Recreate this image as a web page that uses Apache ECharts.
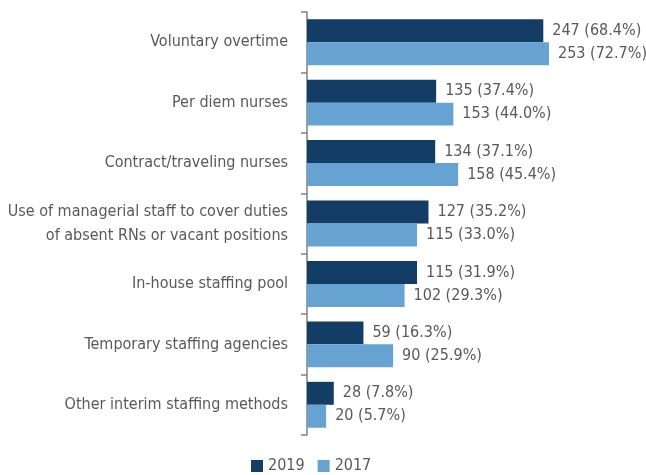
<!DOCTYPE html>
<html><head><meta charset="utf-8">
<script src="https://cdn.jsdelivr.net/npm/echarts@6/dist/echarts.min.js"></script>
<style>html,body{margin:0;padding:0;background:#fff}#c{width:646px;height:475px}</style>
</head><body><div id="c"></div>
<script>
const categories = ["Voluntary overtime","Per diem nurses","Contract/traveling nurses","Use of managerial staff to cover duties\nof absent RNs or vacant positions","In-house staffing pool","Temporary staffing agencies","Other interim staffing methods"];
const values2019 = [247,135,134,127,115,59,28];
const pct2019 = ["68.4","37.4","37.1","35.2","31.9","16.3","7.8"];
const values2017 = [253,153,158,115,102,90,20];
const pct2017 = ["72.7","44.0","45.4","33.0","29.3","25.9","5.7"];
const FONT = "'DejaVu Sans Condensed',sans-serif";
const chart = echarts.init(document.getElementById('c'));
function lbl(p){ return function(params){ return params.value + ' (' + p[params.dataIndex] + '%)'; }; }
chart.setOption({
  animation:false,
  grid:{left:307,right:52,top:12,bottom:40,containLabel:false,outerBoundsMode:'none'},
  legend:{top:458,left:251,padding:0,itemWidth:12,itemHeight:12,itemGap:13,icon:'rect',
    textStyle:{fontFamily:FONT,fontSize:16,color:'#595959'},data:['2019','2017']},
  xAxis:{type:'value',min:0,max:300,show:false},
  yAxis:{type:'category',inverse:true,data:categories,
    axisLine:{lineStyle:{color:'#808080',width:1.5}},
    axisTick:{show:true,length:6,lineStyle:{color:'#808080',width:1.5}},
    axisLabel:{fontFamily:FONT,fontSize:16,color:'#595959',margin:19,align:'right',lineHeight:24}},
  series:[
    {name:'2019',type:'bar',data:values2019,barGap:'0%',barCategoryGap:'24%',
     itemStyle:{color:'#143d66'},
     label:{show:true,position:'right',distance:9,formatter:lbl(pct2019),fontFamily:FONT,fontSize:16,color:'#595959'}},
    {name:'2017',type:'bar',data:values2017,
     itemStyle:{color:'#66a3d2'},
     label:{show:true,position:'right',distance:9,formatter:lbl(pct2017),fontFamily:FONT,fontSize:16,color:'#595959'}}
  ]
});
</script></body></html>
